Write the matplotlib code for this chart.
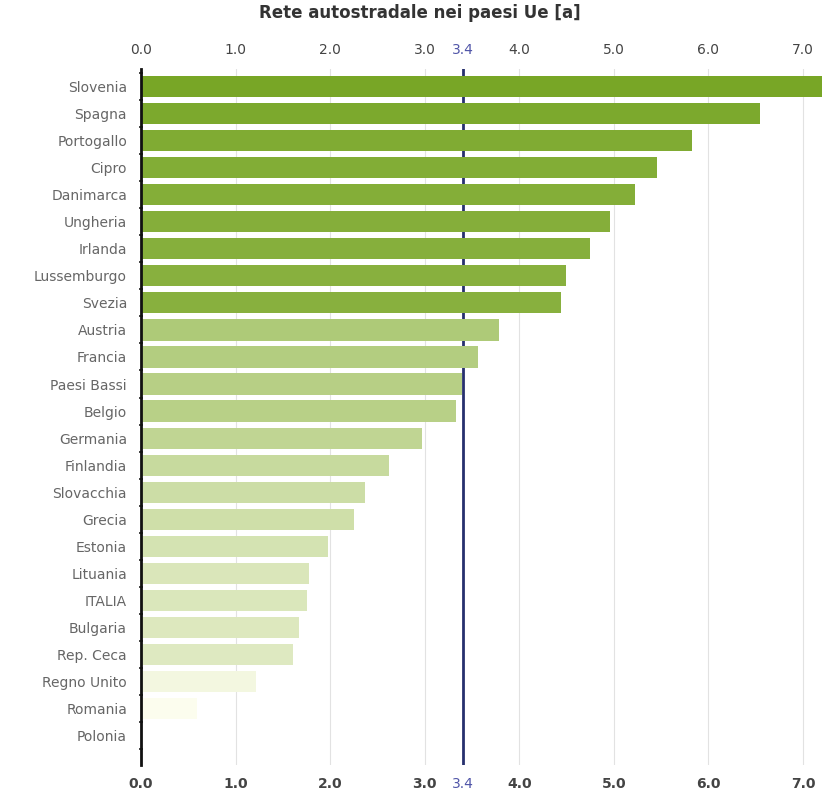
import matplotlib
matplotlib.use("Agg")
import matplotlib.pyplot as plt
import numpy as np

countries = ["Slovenia", "Spagna", "Portogallo", "Cipro", "Danimarca", "Ungheria",
             "Irlanda", "Lussemburgo", "Svezia", "Austria", "Francia", "Paesi Bassi",
             "Belgio", "Germania", "Finlandia", "Slovacchia", "Grecia", "Estonia",
             "Lituania", "ITALIA", "Bulgaria", "Rep. Ceca", "Regno Unito", "Romania",
             "Polonia"]
values = [7.4, 6.54, 5.83, 5.46, 5.22, 4.96, 4.75, 4.49, 4.44, 3.79, 3.56, 3.39,
          3.33, 2.97, 2.62, 2.37, 2.25, 1.98, 1.78, 1.76, 1.67, 1.61, 1.22, 0.59, 0.0]
eu_average = 3.4
x_ticks = [0.0, 1.0, 2.0, 3.0, 4.0, 5.0, 6.0, 7.0]
title = "Rete autostradale nei paesi Ue [a]"

# colour shading: light for short bars, strong green for long ones
dark = np.array([0.47, 0.65, 0.15])
light = np.array([1.0, 1.0, 0.95])
shade_v = [0.0, 0.6, 1.2, 1.6, 2.0, 3.0, 3.8, 4.4, 7.4]
shade_t = [0.0, 0.02, 0.08, 0.24, 0.32, 0.47, 0.6, 0.88, 1.0]
colors = [light + np.interp(v, shade_v, shade_t) * (dark - light) for v in values]

fig = plt.figure(figsize=(8.22, 7.96), dpi=100)
ax = fig.add_axes([0.1715, 0.039, 0.8285, 0.874])

y = np.arange(len(countries))
ax.barh(y, values, height=0.78, color=colors, zorder=2)

for t in x_ticks[1:]:
    ax.axvline(t, color="#e2e2e2", lw=0.8, zorder=0)
ax.axvline(eu_average, color="#27306e", lw=2, zorder=1)

ax.set_xlim(0, 7.2)
ax.set_ylim(len(countries) - 1 + 1.1, -0.65)

ticks = sorted(x_ticks + [eu_average])
ax.set_xticks(ticks)
ax.set_xticklabels([f"{t:.1f}" for t in ticks])
ax.tick_params(axis="x", length=0, labeltop=True, labelbottom=True,
               labelsize=10, pad=9, colors="#444444")
for tick, t in zip(ax.xaxis.get_major_ticks(), ticks):
    tick.label1.set_fontweight("bold")
    if t == eu_average:
        tick.label1.set_color("#5055a8")
        tick.label2.set_color("#5055a8")
        tick.label1.set_fontweight("normal")

ax.set_yticks(y)
ax.set_yticklabels(countries)
ax.tick_params(axis="y", length=0, labelsize=10, pad=10, labelcolor="#666666")
ax.set_yticks(np.arange(len(countries) + 1) - 0.5, minor=True)
ax.tick_params(axis="y", which="minor", length=3, width=1.2, color="#222222", direction="inout")

for s in ["top", "right", "bottom"]:
    ax.spines[s].set_visible(False)
ax.spines["left"].set_color("#111111")
ax.spines["left"].set_linewidth(2)
ax.spines["left"].set_zorder(3)

fig.text(0.511, 0.984, title, ha="center", va="center", fontsize=12,
         fontweight="bold", color="#333333")

fig.savefig("out.png", dpi=100)
